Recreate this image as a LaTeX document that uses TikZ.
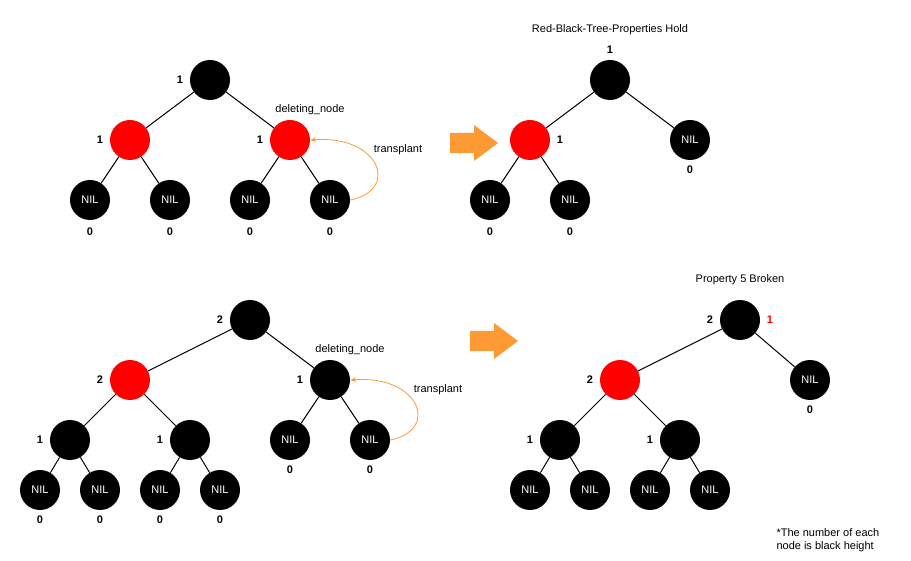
\documentclass[tikz,border=0pt]{standalone}
\usepackage{fontspec}
\setmainfont{Liberation Sans}
\usetikzlibrary{arrows.meta}
\definecolor{myorange}{RGB}{255,153,51}
\tikzset{
  bn/.style={circle,fill=black,minimum size=40pt,inner sep=0pt,text=white,font=\fontsize{11}{13}\selectfont},
  rn/.style={bn,fill=red},
  lb/.style={font=\fontsize{11}{13}\selectfont\bfseries},
  tx/.style={font=\fontsize{11}{13}\selectfont},
  edge/.style={line width=1pt},
  tp/.style={draw=myorange,line width=0.8pt,-{Stealth[length=6pt]}},
  bigarrow/.style={fill=myorange}
}
\begin{document}
\begin{tikzpicture}[x=1pt,y=-1pt]
\useasboundingbox (0,0) rectangle (911,561);
% ---- top left
\node[bn] (a) at (210,80) {};
\node[rn] (a1) at (130,140) {};
\node[rn] (a2) at (290,140) {};
\node[bn] (a11) at (90,200) {NIL};
\node[bn] (a12) at (170,200) {NIL};
\node[bn] (a21) at (250,200) {NIL};
\node[bn] (a22) at (330,200) {NIL};
\draw[edge] (a)--(a1) (a)--(a2) (a1)--(a11) (a1)--(a12) (a2)--(a21) (a2)--(a22);
\node[lb] at (180,80) {1};
\node[lb] at (100,140) {1};
\node[lb] at (260,140) {1};
\node[tx] at (310,110) {deleting\_node};
\foreach \x in {90,170,250,330} \node[lb] at (\x,232) {0};
\node[tx] at (398,150) {transplant};
\draw[tp] (a22.east) .. controls (400,190) and (380,135) .. (a2.east);
% arrow
\fill[bigarrow] (450,133) -- (474,133) -- (474,125) -- (498,143) -- (474,161) -- (474,153) -- (450,153) -- cycle;
% ---- top right
\node[tx] at (610,30) {Red-Black-Tree-Properties Hold};
\node[bn] (b) at (610,80) {};
\node[rn] (b1) at (530,140) {};
\node[bn] (b2) at (690,140) {NIL};
\node[bn] (b11) at (490,200) {NIL};
\node[bn] (b12) at (570,200) {NIL};
\draw[edge] (b)--(b1) (b)--(b2) (b1)--(b11) (b1)--(b12);
\node[lb] at (610,50) {1};
\node[lb] at (560,140) {1};
\node[lb] at (690,170) {0};
\foreach \x in {490,570} \node[lb] at (\x,232) {0};
% ---- bottom left
\node[bn] (c) at (250,320) {};
\node[rn] (c1) at (130,380) {};
\node[bn] (c2) at (330,380) {};
\node[bn] (c11) at (70,440) {};
\node[bn] (c12) at (190,440) {};
\node[bn] (c21) at (290,440) {NIL};
\node[bn] (c22) at (370,440) {NIL};
\node[bn] (c111) at (40,490) {NIL};
\node[bn] (c112) at (100,490) {NIL};
\node[bn] (c121) at (160,490) {NIL};
\node[bn] (c122) at (220,490) {NIL};
\draw[edge] (c)--(c1) (c)--(c2) (c1)--(c11) (c1)--(c12) (c2)--(c21) (c2)--(c22)
  (c11)--(c111) (c11)--(c112) (c12)--(c121) (c12)--(c122);
\node[lb] at (220,320) {2};
\node[lb] at (100,380) {2};
\node[lb] at (300,380) {1};
\node[lb] at (40,440) {1};
\node[lb] at (160,440) {1};
\node[tx] at (350,350) {deleting\_node};
\foreach \x in {290,370} \node[lb] at (\x,470) {0};
\foreach \x in {40,100,160,220} \node[lb] at (\x,520) {0};
\node[tx] at (438,390) {transplant};
\draw[tp] (c22.east) .. controls (440,430) and (420,375) .. (c2.east);
% arrow
\fill[bigarrow] (470,331) -- (494,331) -- (494,323) -- (518,341) -- (494,359) -- (494,351) -- (470,351) -- cycle;
% ---- bottom right
\node[tx] at (740,280) {Property 5 Broken};
\node[bn] (d) at (740,320) {};
\node[rn] (d1) at (620,380) {};
\node[bn] (d2) at (810,380) {NIL};
\node[bn] (d11) at (560,440) {};
\node[bn] (d12) at (680,440) {};
\node[bn] (d111) at (530,490) {NIL};
\node[bn] (d112) at (590,490) {NIL};
\node[bn] (d121) at (650,490) {NIL};
\node[bn] (d122) at (710,490) {NIL};
\draw[edge] (d)--(d1) (d)--(d2) (d1)--(d11) (d1)--(d12)
  (d11)--(d111) (d11)--(d112) (d12)--(d121) (d12)--(d122);
\node[lb] at (710,320) {2};
\node[lb,text=red] at (770,320) {1};
\node[lb] at (590,380) {2};
\node[lb] at (810,410) {0};
\node[lb] at (530,440) {1};
\node[lb] at (650,440) {1};
\node[tx,align=left,anchor=west] at (773,540) {*The number of each\\node is black height};
\end{tikzpicture}
\end{document}
